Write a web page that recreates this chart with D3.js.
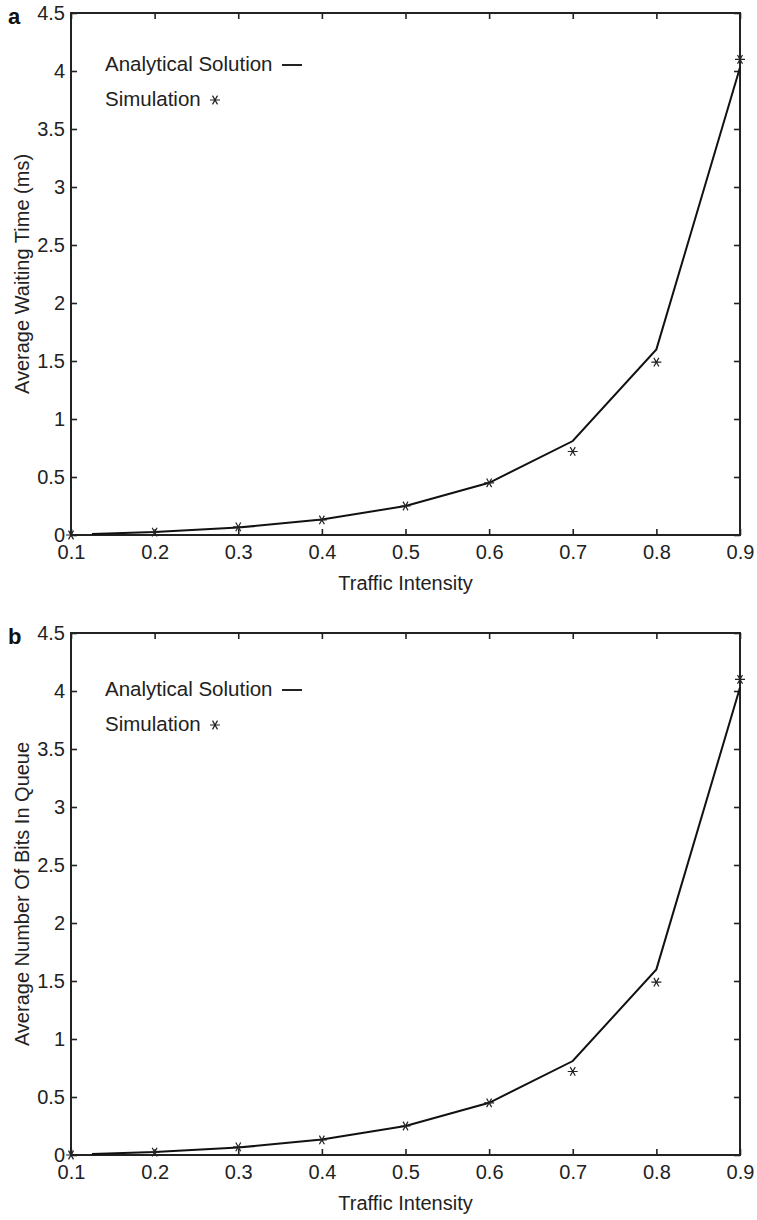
<!DOCTYPE html>
<html>
<head>
<meta charset="utf-8">
<script src="https://cdn.jsdelivr.net/npm/d3@7"></script>
<style>
  body { margin: 0; background: #fff; }
  svg { font-family: "Liberation Sans", Arial, Helvetica, sans-serif; }
  .tick text { font-size: 20px; fill: #222; }
</style>
</head>
<body>
<script>
// data
var intensity = [0.1, 0.2, 0.3, 0.4, 0.5, 0.6, 0.7, 0.8, 0.9];
var analyticalX = [0.125, 0.2, 0.3, 0.4, 0.5, 0.6, 0.7, 0.8, 0.9];
var waitAnalytical = [0.008, 0.025, 0.064, 0.133, 0.25, 0.45, 0.81, 1.6, 4.03];
var waitSim = [0.0, 0.025, 0.07, 0.13, 0.25, 0.45, 0.72, 1.49, 4.1];
var bitsAnalytical = [0.008, 0.025, 0.064, 0.133, 0.25, 0.45, 0.81, 1.6, 4.03];
var bitsSim = [0.0, 0.025, 0.07, 0.13, 0.25, 0.45, 0.72, 1.49, 4.1];
var xTicks = [0.1, 0.2, 0.3, 0.4, 0.5, 0.6, 0.7, 0.8, 0.9];
var yTicks = [0, 0.5, 1, 1.5, 2, 2.5, 3, 3.5, 4, 4.5];

var margin = {left: 71, right: 17},
    width = 757 - margin.left - margin.right,
    height = 522;

var svg = d3.select("body").append("svg")
  .attr("width", 757)
  .attr("height", 1220);

var x = d3.scaleLinear().domain([0.1, 0.9]).range([0, width]);
var y = d3.scaleLinear().domain([0, 4.5]).range([height, 0]);

function drawPanel(top, letter, yLabel, lineVals, simVals, legendTop) {
  var g = svg.append("g")
    .attr("transform", "translate(" + margin.left + "," + top + ")");

  //axes with inward ticks on all four sides
  g.append("g")
    .attr("transform", "translate(0," + height + ")")
    .call(d3.axisBottom(x).tickValues(xTicks).tickFormat(d3.format("")).tickSizeInner(-6).tickSizeOuter(0).tickPadding(10));
  g.append("g")
    .call(d3.axisTop(x).tickValues(xTicks).tickFormat("").tickSizeInner(-6).tickSizeOuter(0));
  g.append("g")
    .call(d3.axisLeft(y).tickValues(yTicks).tickFormat(d3.format("")).tickSizeInner(-6).tickSizeOuter(0).tickPadding(6));
  g.append("g")
    .attr("transform", "translate(" + width + ",0)")
    .call(d3.axisRight(y).tickValues(yTicks).tickFormat("").tickSizeInner(-6).tickSizeOuter(0));
  g.selectAll(".domain").remove();
  g.selectAll(".tick line").attr("stroke", "#222").attr("stroke-width", 1.6);

  g.append("rect")
    .attr("width", width)
    .attr("height", height)
    .attr("fill", "none")
    .attr("stroke", "#222")
    .attr("stroke-width", 2);

  // analytical curve
  var line = d3.line()
    .x(function(d, i) { return x(analyticalX[i]); })
    .y(function(d) { return y(d); });
  g.append("path")
    .datum(lineVals)
    .attr("d", line)
    .attr("fill", "none")
    .attr("stroke", "#111")
    .attr("stroke-width", 2);

  // simulation stars
  var star = d3.symbol().type(d3.symbolAsterisk).size(70);
  g.selectAll(".sim")
    .data(simVals)
    .enter().append("path")
    .attr("class", "sim")
    .attr("d", star)
    .attr("transform", function(d, i) { return "translate(" + x(intensity[i]) + "," + y(d) + ") rotate(90)"; })
    .attr("fill", "none")
    .attr("stroke", "#222")
    .attr("stroke-width", 1.2);

  // legend
  g.append("text")
    .attr("x", 34)
    .attr("y", legendTop)
    .style("font-size", "20.5px")
    .attr("fill", "#222")
    .text("Analytical Solution");
  g.append("line")
    .attr("x1", 211).attr("x2", 231)
    .attr("y1", legendTop - 6).attr("y2", legendTop - 6)
    .attr("stroke", "#222")
    .attr("stroke-width", 2);
  g.append("text")
    .attr("x", 34)
    .attr("y", legendTop + 35)
    .style("font-size", "20.5px")
    .attr("fill", "#222")
    .text("Simulation");
  g.append("path")
    .attr("d", star)
    .attr("transform", "translate(144," + (legendTop + 29) + ") rotate(90)")
    .attr("fill", "none")
    .attr("stroke", "#222")
    .attr("stroke-width", 1.2);

  // axis titles
  g.append("text")
    .attr("x", width / 2)
    .attr("y", height + 55)
    .attr("text-anchor", "middle")
    .style("font-size", "20px")
    .attr("fill", "#222")
    .text("Traffic Intensity");
  g.append("text")
    .attr("transform", "translate(-42," + (height / 2) + ") rotate(-90)")
    .attr("text-anchor", "middle")
    .style("font-size", "20px")
    .attr("fill", "#222")
    .text(yLabel);

  // panel letter
  g.append("text")
    .attr("x", -63)
    .attr("y", 11)
    .style("font-size", "22px")
    .style("font-weight", "bold")
    .attr("fill", "#111")
    .text(letter);
}

drawPanel(13, "a", "Average Waiting Time (ms)", waitAnalytical, waitSim, 58);
drawPanel(633, "b", "Average Number Of Bits In Queue", bitsAnalytical, bitsSim, 63);
</script>
</body>
</html>
